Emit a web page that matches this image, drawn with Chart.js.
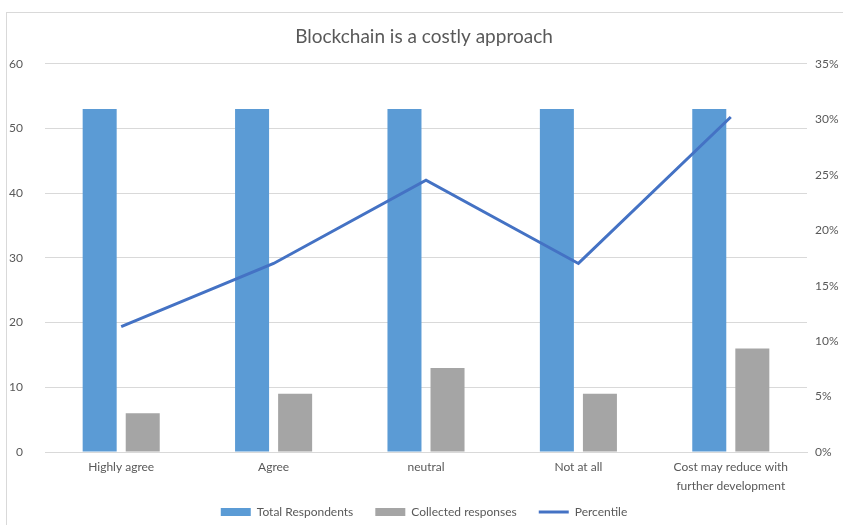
<!DOCTYPE html>
<html>
<head>
<meta charset="utf-8">
<script src="https://cdn.jsdelivr.net/npm/chart.js@4"></script>
<style>
  html, body { margin: 0; padding: 0; background: #fff; overflow: hidden; }
  #box { position: absolute; left: 6px; top: 12px; width: 860px; height: 540px; border: 1px solid #d9d9d9; }
</style>
</head>
<body>
<div id="box"><canvas id="myChart" width="834" height="515"></canvas></div>
<script>
var categories = ["Highly agree", "Agree", "neutral", "Not at all", ["Cost may reduce with", "further development"]];
var totalRespondents = [53, 53, 53, 53, 53];
var collectedResponses = [6, 9, 13, 9, 16];
var percentile = [11.3, 17.0, 24.5, 17.0, 30.2];

var grey = "#595959";
Chart.defaults.font.family = "Lato, 'Open Sans', sans-serif";
Chart.defaults.color = grey;

// let the two-line x labels draw into the legend's top padding
var labelRoom = {
  id: 'labelRoom',
  afterLayout: function (chart) { chart.scales.x.bottom += 30; }
};

new Chart(document.getElementById("myChart"), {
  type: 'bar',
  data: {
    labels: categories,
    datasets: [
      {
        label: "Total Respondents",
        backgroundColor: "#5B9BD5",
        data: totalRespondents,
        yAxisID: 'y',
        order: 2
      }, {
        label: "Collected responses",
        backgroundColor: "#A5A5A5",
        data: collectedResponses,
        yAxisID: 'y',
        order: 3
      }, {
        type: 'line',
        label: "Percentile",
        borderColor: "#4472C4",
        backgroundColor: "#4472C4",
        borderWidth: 3,
        pointRadius: 0,
        tension: 0,
        data: percentile,
        yAxisID: 'y2',
        order: 1
      }
    ]
  },
  plugins: [labelRoom],
  options: {
    responsive: false,
    animation: false,
    layout: { padding: 0 },
    datasets: {
      bar: { categoryPercentage: 0.565, barPercentage: 0.79 }
    },
    plugins: {
      title: {
        display: true,
        text: 'Blockchain is a costly approach',
        color: grey,
        font: { size: 19, weight: 'normal' },
        padding: { top: 12, bottom: 16 }
      },
      legend: {
        position: 'bottom',
        labels: {
          usePointStyle: true,
          pointStyleWidth: 30,
          boxHeight: 8,
          padding: 22,
          font: { size: 12 },
          sort: function (a, b) { return a.datasetIndex - b.datasetIndex; },
          generateLabels: function (chart) {
            var items = Chart.defaults.plugins.legend.labels.generateLabels(chart);
            items.forEach(function (it) {
              var ds = chart.data.datasets[it.datasetIndex];
              if (ds.type === 'line') {
                it.pointStyle = 'line';
                it.lineWidth = 3;
                it.strokeStyle = ds.borderColor;
              } else {
                it.pointStyle = 'rect';
                it.lineWidth = 0;
              }
            });
            return items;
          }
        }
      },
      tooltip: { enabled: false }
    },
    scales: {
      x: {
        grid: { display: false, drawTicks: false },
        border: { color: "#d9d9d9" },
        ticks: { padding: 6, font: { size: 12, lineHeight: 1.55 }, maxRotation: 0 },
        afterFit: function (s) { s.height = 32; }
      },
      y: {
        position: 'left',
        min: 0, max: 60,
        ticks: { stepSize: 10, padding: 22, font: { size: 12 } },
        grid: { color: "#d9d9d9", drawTicks: false },
        border: { display: false },
        afterFit: function (s) { s.width = 38; }
      },
      y2: {
        position: 'right',
        min: 0, max: 35,
        ticks: { stepSize: 5, padding: 8, font: { size: 12 }, callback: function (v) { return v + '%'; } },
        grid: { display: false, drawTicks: false },
        border: { display: false },
        afterFit: function (s) { s.width = 34; }
      }
    }
  }
});
</script>
</body>
</html>
